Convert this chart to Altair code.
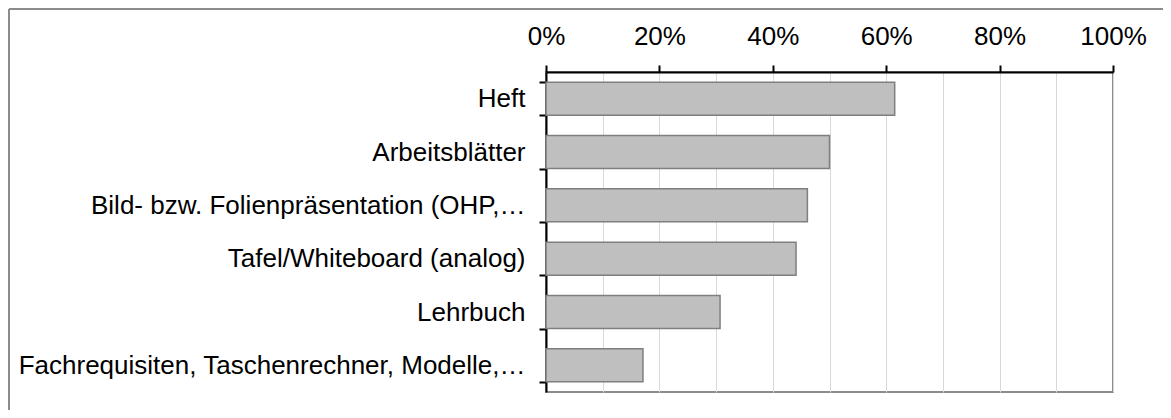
import altair as alt
import pandas as pd

categories = [
    "Heft",
    "Arbeitsblätter",
    "Bild- bzw. Folienpräsentation (OHP,…",
    "Tafel/Whiteboard (analog)",
    "Lehrbuch",
    "Fachrequisiten, Taschenrechner, Modelle,…",
]
values = [0.615, 0.500, 0.461, 0.441, 0.307, 0.171]
x_ticks = [i / 10 for i in range(11)]

df = pd.DataFrame({"Kategorie": categories, "Anteil": values})

FONT = "Liberation Sans"

bars = alt.Chart(df).mark_bar(
    color="#bfbfbf", stroke="#7f7f7f", strokeWidth=1.5
).encode(
    x=alt.X(
        "Anteil:Q",
        scale=alt.Scale(domain=[0, 1], nice=False),
        axis=alt.Axis(
            orient="top",
            values=x_ticks,
            format=".0%",
            labelExpr="round(datum.value*100) % 20 == 0 ? datum.label : ''",
            title=None,
            grid=True,
            gridColor="#d9d9d9",
            gridWidth=1,
            domainColor="black",
            domainWidth=2,
            tickColor="black",
            tickWidth=2,
            tickSize=7,
            tickOpacity={"condition": {"test": "round(datum.value*100) % 20 == 0", "value": 1}, "value": 0},
            labelFont=FONT,
            labelFontSize=26,
            labelColor="black",
            labelPadding=16,
            labelFlush=False,
            labelOverlap=False,
        ),
    ),
    y=alt.Y(
        "Kategorie:N",
        sort=categories,
        scale=alt.Scale(paddingInner=0.38, paddingOuter=0.19),
        axis=alt.Axis(
            title=None,
            domainColor="black",
            domainWidth=2,
            tickColor="black",
            tickWidth=2,
            tickSize=7,
            tickBand="extent",
            labelFont=FONT,
            labelFontSize=26,
            labelColor="black",
            labelPadding=14,
            labelLimit=0,
        ),
    ),
)

frame_top = alt.Chart(df).mark_rule(color="#8c8c8c", strokeWidth=2).encode(
    x=alt.value(-537), x2=alt.value(640), y=alt.value(-63)
)
frame_left = alt.Chart(df).mark_rule(color="#8c8c8c", strokeWidth=2).encode(
    x=alt.value(-537), y=alt.value(-63), y2=alt.value(360)
)

chart = alt.layer(bars, frame_top, frame_left).properties(
    width=567,
    height=320,
    autosize=alt.AutoSizeParams(type="none"),
    padding={"left": 538, "top": 64, "right": 50, "bottom": 18},
    background="white",
).configure_view(
    stroke="#8c8c8c", strokeWidth=2
)

chart.save("out.html", embed_options={"renderer": "svg", "actions": False})
